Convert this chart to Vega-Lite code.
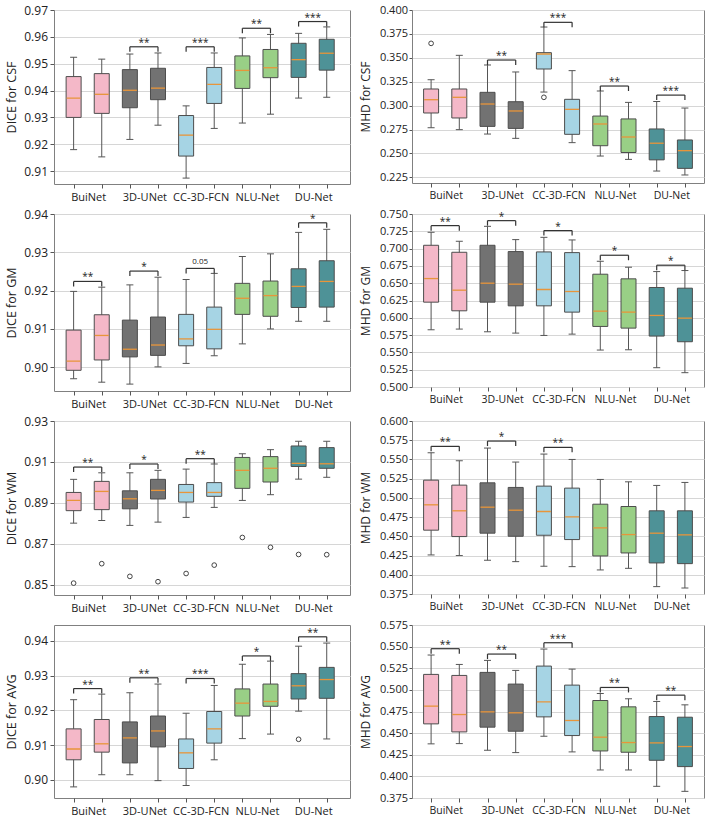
{
"$schema":"https://vega.github.io/schema/vega-lite/v6.json",
"background":"white",
"padding":{"left":5,"top":3,"right":2,"bottom":2},
"columns":2,
"bounds":"flush",
"align":"each",
"spacing":{"row":30,"column":62},
"data":{"values":[
{"p":"DC","k":"b","m":"BuiNet","x":1,"lo":0.918,"q1":0.930,"md":0.9372,"q3":0.9452,"hi":0.9524},
{"p":"DC","k":"b","m":"BuiNet","x":2,"lo":0.9153,"q1":0.9315,"md":0.9386,"q3":0.9463,"hi":0.9517},
{"p":"DC","k":"b","m":"3D-UNet","x":3,"lo":0.9218,"q1":0.9336,"md":0.9401,"q3":0.9478,"hi":0.9536},
{"p":"DC","k":"b","m":"3D-UNet","x":4,"lo":0.9271,"q1":0.9366,"md":0.9409,"q3":0.9483,"hi":0.954},
{"p":"DC","k":"b","m":"CC-3D-FCN","x":5,"lo":0.9074,"q1":0.9156,"md":0.9234,"q3":0.9307,"hi":0.9343},
{"p":"DC","k":"b","m":"CC-3D-FCN","x":6,"lo":0.9259,"q1":0.9352,"md":0.9423,"q3":0.9486,"hi":0.954},
{"p":"DC","k":"b","m":"NLU-Net","x":7,"lo":0.9279,"q1":0.9408,"md":0.9475,"q3":0.9529,"hi":0.9596},
{"p":"DC","k":"b","m":"NLU-Net","x":8,"lo":0.9312,"q1":0.9448,"md":0.9485,"q3":0.9553,"hi":0.9609},
{"p":"DC","k":"b","m":"DU-Net","x":9,"lo":0.9372,"q1":0.9449,"md":0.9515,"q3":0.9576,"hi":0.9613},
{"p":"DC","k":"b","m":"DU-Net","x":10,"lo":0.9375,"q1":0.9476,"md":0.9539,"q3":0.9591,"hi":0.9637},
{"p":"DC","k":"s","x":3,"x2":4,"mid":3.5,"y":0.9563,"t":"**"},
{"p":"DC","k":"s","x":5,"x2":6,"mid":5.5,"y":0.9563,"t":"***"},
{"p":"DC","k":"s","x":7,"x2":8,"mid":7.5,"y":0.9632,"t":"**"},
{"p":"DC","k":"s","x":9,"x2":10,"mid":9.5,"y":0.9657,"t":"***"},

{"p":"MC","k":"b","m":"BuiNet","x":1,"lo":0.2769,"q1":0.2923,"md":0.3062,"q3":0.3174,"hi":0.3271},
{"p":"MC","k":"b","m":"BuiNet","x":2,"lo":0.2749,"q1":0.2871,"md":0.3087,"q3":0.3174,"hi":0.3526},
{"p":"MC","k":"b","m":"3D-UNet","x":3,"lo":0.2703,"q1":0.2783,"md":0.3017,"q3":0.3139,"hi":0.3425},
{"p":"MC","k":"b","m":"3D-UNet","x":4,"lo":0.2658,"q1":0.2762,"md":0.2944,"q3":0.3041,"hi":0.3352},
{"p":"MC","k":"b","m":"CC-3D-FCN","x":5,"lo":0.3142,"q1":0.3383,"md":0.354,"q3":0.3554,"hi":0.3822},
{"p":"MC","k":"b","m":"CC-3D-FCN","x":6,"lo":0.2613,"q1":0.27,"md":0.2961,"q3":0.3066,"hi":0.3366},
{"p":"MC","k":"b","m":"NLU-Net","x":7,"lo":0.2473,"q1":0.2581,"md":0.2808,"q3":0.2891,"hi":0.3153},
{"p":"MC","k":"b","m":"NLU-Net","x":8,"lo":0.2438,"q1":0.2510,"md":0.2672,"q3":0.2861,"hi":0.3034},
{"p":"MC","k":"b","m":"DU-Net","x":9,"lo":0.2316,"q1":0.2433,"md":0.2607,"q3":0.2756,"hi":0.3043},
{"p":"MC","k":"b","m":"DU-Net","x":10,"lo":0.2275,"q1":0.2344,"md":0.2529,"q3":0.2641,"hi":0.2975},
{"p":"MC","k":"o","m":"BuiNet","x":1,"v":0.3651},
{"p":"MC","k":"o","m":"CC-3D-FCN","x":5,"v":0.3087},
{"p":"MC","k":"s","x":3,"x2":4,"mid":3.5,"y":0.3477,"t":"**"},
{"p":"MC","k":"s","x":5,"x2":6,"mid":5.5,"y":0.3871,"t":"***"},
{"p":"MC","k":"s","x":7,"x2":8,"mid":7.5,"y":0.3205,"t":"**"},
{"p":"MC","k":"s","x":9,"x2":10,"mid":9.5,"y":0.311,"t":"***"},

{"p":"DG","k":"b","m":"BuiNet","x":1,"lo":0.897,"q1":0.8992,"md":0.9016,"q3":0.9097,"hi":0.9198},
{"p":"DG","k":"b","m":"BuiNet","x":2,"lo":0.8961,"q1":0.9019,"md":0.9083,"q3":0.9137,"hi":0.9209},
{"p":"DG","k":"b","m":"3D-UNet","x":3,"lo":0.8956,"q1":0.9027,"md":0.9047,"q3":0.9123,"hi":0.9215},
{"p":"DG","k":"b","m":"3D-UNet","x":4,"lo":0.9001,"q1":0.9031,"md":0.9058,"q3":0.9131,"hi":0.9235},
{"p":"DG","k":"b","m":"CC-3D-FCN","x":5,"lo":0.901,"q1":0.9056,"md":0.9074,"q3":0.9138,"hi":0.9229},
{"p":"DG","k":"b","m":"CC-3D-FCN","x":6,"lo":0.903,"q1":0.9048,"md":0.9099,"q3":0.9157,"hi":0.9245},
{"p":"DG","k":"b","m":"NLU-Net","x":7,"lo":0.9061,"q1":0.9138,"md":0.918,"q3":0.9219,"hi":0.9289},
{"p":"DG","k":"b","m":"NLU-Net","x":8,"lo":0.91,"q1":0.9133,"md":0.9187,"q3":0.9225,"hi":0.9296},
{"p":"DG","k":"b","m":"DU-Net","x":9,"lo":0.912,"q1":0.9156,"md":0.9211,"q3":0.9257,"hi":0.9352},
{"p":"DG","k":"b","m":"DU-Net","x":10,"lo":0.912,"q1":0.9157,"md":0.9224,"q3":0.9278,"hi":0.936},
{"p":"DG","k":"s","x":1,"x2":2,"mid":1.5,"y":0.9224,"t":"**"},
{"p":"DG","k":"s","x":3,"x2":4,"mid":3.5,"y":0.9251,"t":"*"},
{"p":"DG","k":"s","x":5,"x2":6,"mid":5.5,"y":0.9258,"t":"0.05"},
{"p":"DG","k":"s","x":9,"x2":10,"mid":9.5,"y":0.9377,"t":"*"},

{"p":"MG","k":"b","m":"BuiNet","x":1,"lo":0.5827,"q1":0.6226,"md":0.6567,"q3":0.7048,"hi":0.7236},
{"p":"MG","k":"b","m":"BuiNet","x":2,"lo":0.5837,"q1":0.6101,"md":0.6399,"q3":0.6947,"hi":0.7106},
{"p":"MG","k":"b","m":"3D-UNet","x":3,"lo":0.5798,"q1":0.6226,"md":0.65,"q3":0.7048,"hi":0.7322},
{"p":"MG","k":"b","m":"3D-UNet","x":4,"lo":0.5779,"q1":0.6173,"md":0.6486,"q3":0.6957,"hi":0.713},
{"p":"MG","k":"b","m":"CC-3D-FCN","x":5,"lo":0.5745,"q1":0.6173,"md":0.6409,"q3":0.6952,"hi":0.7163},
{"p":"MG","k":"b","m":"CC-3D-FCN","x":6,"lo":0.5764,"q1":0.6082,"md":0.638,"q3":0.6942,"hi":0.7125},
{"p":"MG","k":"b","m":"NLU-Net","x":7,"lo":0.5534,"q1":0.5875,"md":0.6096,"q3":0.663,"hi":0.6817},
{"p":"MG","k":"b","m":"NLU-Net","x":8,"lo":0.5538,"q1":0.5851,"md":0.6082,"q3":0.6563,"hi":0.6731},
{"p":"MG","k":"b","m":"DU-Net","x":9,"lo":0.5279,"q1":0.5736,"md":0.6034,"q3":0.6438,"hi":0.6668},
{"p":"MG","k":"b","m":"DU-Net","x":10,"lo":0.5207,"q1":0.5654,"md":0.5995,"q3":0.6428,"hi":0.6683},
{"p":"MG","k":"s","x":1,"x2":2,"mid":1.5,"y":0.7332,"t":"**"},
{"p":"MG","k":"s","x":3,"x2":4,"mid":3.5,"y":0.7404,"t":"*"},
{"p":"MG","k":"s","x":5,"x2":6,"mid":5.5,"y":0.726,"t":"*"},
{"p":"MG","k":"s","x":7,"x2":8,"mid":7.5,"y":0.6904,"t":"*"},
{"p":"MG","k":"s","x":9,"x2":10,"mid":9.5,"y":0.676,"t":"*"},

{"p":"DW","k":"b","m":"BuiNet","x":1,"lo":0.8801,"q1":0.8862,"md":0.8912,"q3":0.8951,"hi":0.9015},
{"p":"DW","k":"b","m":"BuiNet","x":2,"lo":0.8814,"q1":0.8867,"md":0.8956,"q3":0.9005,"hi":0.9047},
{"p":"DW","k":"b","m":"3D-UNet","x":3,"lo":0.879,"q1":0.8871,"md":0.892,"q3":0.8959,"hi":0.9047},
{"p":"DW","k":"b","m":"3D-UNet","x":4,"lo":0.8806,"q1":0.8919,"md":0.8961,"q3":0.9015,"hi":0.9059},
{"p":"DW","k":"b","m":"CC-3D-FCN","x":5,"lo":0.8829,"q1":0.8904,"md":0.8951,"q3":0.899,"hi":0.9065},
{"p":"DW","k":"b","m":"CC-3D-FCN","x":6,"lo":0.8878,"q1":0.8932,"md":0.8951,"q3":0.8999,"hi":0.909},
{"p":"DW","k":"b","m":"NLU-Net","x":7,"lo":0.8912,"q1":0.8971,"md":0.9059,"q3":0.9122,"hi":0.914},
{"p":"DW","k":"b","m":"NLU-Net","x":8,"lo":0.894,"q1":0.9002,"md":0.9069,"q3":0.9126,"hi":0.916},
{"p":"DW","k":"b","m":"DU-Net","x":9,"lo":0.9016,"q1":0.9078,"md":0.9093,"q3":0.9178,"hi":0.9201},
{"p":"DW","k":"b","m":"DU-Net","x":10,"lo":0.9025,"q1":0.9069,"md":0.9091,"q3":0.917,"hi":0.9201},
{"p":"DW","k":"o","m":"BuiNet","x":1,"v":0.8508},
{"p":"DW","k":"o","m":"BuiNet","x":2,"v":0.8603},
{"p":"DW","k":"o","m":"3D-UNet","x":3,"v":0.8541},
{"p":"DW","k":"o","m":"3D-UNet","x":4,"v":0.8515},
{"p":"DW","k":"o","m":"CC-3D-FCN","x":5,"v":0.8555},
{"p":"DW","k":"o","m":"CC-3D-FCN","x":6,"v":0.8596},
{"p":"DW","k":"o","m":"NLU-Net","x":7,"v":0.8731},
{"p":"DW","k":"o","m":"NLU-Net","x":8,"v":0.8683},
{"p":"DW","k":"o","m":"DU-Net","x":9,"v":0.8648},
{"p":"DW","k":"o","m":"DU-Net","x":10,"v":0.8647},
{"p":"DW","k":"s","x":1,"x2":2,"mid":1.5,"y":0.9075,"t":"**"},
{"p":"DW","k":"s","x":3,"x2":4,"mid":3.5,"y":0.909,"t":"*"},
{"p":"DW","k":"s","x":5,"x2":6,"mid":5.5,"y":0.9116,"t":"**"},

{"p":"MW","k":"b","m":"BuiNet","x":1,"lo":0.4258,"q1":0.458,"md":0.491,"q3":0.5231,"hi":0.5587},
{"p":"MW","k":"b","m":"BuiNet","x":2,"lo":0.425,"q1":0.4497,"md":0.4832,"q3":0.5166,"hi":0.5483},
{"p":"MW","k":"b","m":"3D-UNet","x":3,"lo":0.4189,"q1":0.4541,"md":0.4879,"q3":0.5196,"hi":0.5648},
{"p":"MW","k":"b","m":"3D-UNet","x":4,"lo":0.4171,"q1":0.4501,"md":0.484,"q3":0.5136,"hi":0.5466},
{"p":"MW","k":"b","m":"CC-3D-FCN","x":5,"lo":0.4111,"q1":0.4514,"md":0.4823,"q3":0.5153,"hi":0.557},
{"p":"MW","k":"b","m":"CC-3D-FCN","x":6,"lo":0.4106,"q1":0.4458,"md":0.4753,"q3":0.5127,"hi":0.55},
{"p":"MW","k":"b","m":"NLU-Net","x":7,"lo":0.4063,"q1":0.4245,"md":0.461,"q3":0.4918,"hi":0.524},
{"p":"MW","k":"b","m":"NLU-Net","x":8,"lo":0.4084,"q1":0.4284,"md":0.4523,"q3":0.4888,"hi":0.5209},
{"p":"MW","k":"b","m":"DU-Net","x":9,"lo":0.3846,"q1":0.4154,"md":0.4541,"q3":0.4832,"hi":0.5162},
{"p":"MW","k":"b","m":"DU-Net","x":10,"lo":0.3828,"q1":0.4145,"md":0.4519,"q3":0.4832,"hi":0.5201},
{"p":"MW","k":"s","x":1,"x2":2,"mid":1.5,"y":0.567,"t":"**"},
{"p":"MW","k":"s","x":3,"x2":4,"mid":3.5,"y":0.5739,"t":"*"},
{"p":"MW","k":"s","x":5,"x2":6,"mid":5.5,"y":0.5657,"t":"**"},

{"p":"DA","k":"b","m":"BuiNet","x":1,"lo":0.898,"q1":0.9058,"md":0.9089,"q3":0.9147,"hi":0.9231},
{"p":"DA","k":"b","m":"BuiNet","x":2,"lo":0.9015,"q1":0.908,"md":0.9104,"q3":0.9174,"hi":0.9247},
{"p":"DA","k":"b","m":"3D-UNet","x":3,"lo":0.9015,"q1":0.9049,"md":0.9121,"q3":0.9167,"hi":0.9251},
{"p":"DA","k":"b","m":"3D-UNet","x":4,"lo":0.8998,"q1":0.9095,"md":0.9141,"q3":0.9184,"hi":0.9276},
{"p":"DA","k":"b","m":"CC-3D-FCN","x":5,"lo":0.8984,"q1":0.9033,"md":0.9078,"q3":0.9118,"hi":0.9192},
{"p":"DA","k":"b","m":"CC-3D-FCN","x":6,"lo":0.9058,"q1":0.9106,"md":0.9147,"q3":0.9197,"hi":0.9272},
{"p":"DA","k":"b","m":"NLU-Net","x":7,"lo":0.9119,"q1":0.9184,"md":0.9221,"q3":0.9262,"hi":0.9333},
{"p":"DA","k":"b","m":"NLU-Net","x":8,"lo":0.9132,"q1":0.9212,"md":0.9226,"q3":0.9276,"hi":0.9342},
{"p":"DA","k":"b","m":"DU-Net","x":9,"lo":0.9198,"q1":0.9233,"md":0.9271,"q3":0.9306,"hi":0.9385},
{"p":"DA","k":"b","m":"DU-Net","x":10,"lo":0.9118,"q1":0.9235,"md":0.9289,"q3":0.9324,"hi":0.9394},
{"p":"DA","k":"o","m":"DU-Net","x":9,"v":0.9117},
{"p":"DA","k":"s","x":1,"x2":2,"mid":1.5,"y":0.9263,"t":"**"},
{"p":"DA","k":"s","x":3,"x2":4,"mid":3.5,"y":0.9294,"t":"**"},
{"p":"DA","k":"s","x":5,"x2":6,"mid":5.5,"y":0.9292,"t":"***"},
{"p":"DA","k":"s","x":7,"x2":8,"mid":7.5,"y":0.9357,"t":"*"},
{"p":"DA","k":"s","x":9,"x2":10,"mid":9.5,"y":0.9412,"t":"**"},

{"p":"MA","k":"b","m":"BuiNet","x":1,"lo":0.4376,"q1":0.4607,"md":0.4812,"q3":0.5179,"hi":0.5403},
{"p":"MA","k":"b","m":"BuiNet","x":2,"lo":0.4379,"q1":0.4514,"md":0.4715,"q3":0.5167,"hi":0.5294},
{"p":"MA","k":"b","m":"3D-UNet","x":3,"lo":0.4302,"q1":0.4569,"md":0.4746,"q3":0.5202,"hi":0.5341},
{"p":"MA","k":"b","m":"3D-UNet","x":4,"lo":0.4275,"q1":0.4522,"md":0.4735,"q3":0.5067,"hi":0.5225},
{"p":"MA","k":"b","m":"CC-3D-FCN","x":5,"lo":0.4464,"q1":0.4688,"md":0.4862,"q3":0.5275,"hi":0.5472},
{"p":"MA","k":"b","m":"CC-3D-FCN","x":6,"lo":0.4283,"q1":0.4472,"md":0.4646,"q3":0.5055,"hi":0.524},
{"p":"MA","k":"b","m":"NLU-Net","x":7,"lo":0.4074,"q1":0.4294,"md":0.4453,"q3":0.4877,"hi":0.4958},
{"p":"MA","k":"b","m":"NLU-Net","x":8,"lo":0.4074,"q1":0.4279,"md":0.4391,"q3":0.4804,"hi":0.4897},
{"p":"MA","k":"b","m":"DU-Net","x":9,"lo":0.3885,"q1":0.4186,"md":0.4387,"q3":0.4692,"hi":0.4866},
{"p":"MA","k":"b","m":"DU-Net","x":10,"lo":0.3827,"q1":0.4113,"md":0.4345,"q3":0.4684,"hi":0.4827},
{"p":"MA","k":"s","x":1,"x2":2,"mid":1.5,"y":0.5476,"t":"**"},
{"p":"MA","k":"s","x":3,"x2":4,"mid":3.5,"y":0.5414,"t":"**"},
{"p":"MA","k":"s","x":5,"x2":6,"mid":5.5,"y":0.5545,"t":"***"},
{"p":"MA","k":"s","x":7,"x2":8,"mid":7.5,"y":0.5028,"t":"**"},
{"p":"MA","k":"s","x":9,"x2":10,"mid":9.5,"y":0.4939,"t":"**"}
]},
"concat":[
{"width":296,"height":174,"transform":[{"filter":"datum.p==='DC'"}],"layer":[
 {"transform":[{"filter":"datum.k==='b'"}],"mark":{"type":"rule","color":"#555555","strokeWidth":1},"encoding":{
  "x":{"field":"x","type":"quantitative","title":null,"scale":{"domain":[0.48,10.65],"nice":false,"zero":false},"axis":{"values":[1,2,3,4,5,6,7,8,9,10],"tickCount":30,"labelExpr":"datum.value % 2 === 1 ? ['BuiNet','3D-UNet','CC-3D-FCN','NLU-Net','DU-Net'][(datum.value - 1) / 2] : ''","labelOffset":14.55,"labelFontSize":11,"labelOverlap":false,"labelFlush":false}},
  "y":{"field":"lo","type":"quantitative","title":"DICE for CSF","scale":{"domain":[0.9052,0.97],"nice":false,"zero":false},"axis":{"values":[0.91,0.92,0.93,0.94,0.95,0.96,0.97],"tickCount":30,"format":".2f","labelFontSize":12,"titleFontSize":12.5,"titlePadding":5,"tickSize":4,"labelPadding":2.5,"labelOverlap":false,"labelFlush":false}},
  "y2":{"field":"hi"}}},
 {"transform":[{"filter":"datum.k==='b'"}],"mark":{"type":"bar","size":15,"stroke":"#4d4d4d","strokeWidth":1},"encoding":{"x":{"field":"x","type":"quantitative","title":null},"y":{"field":"q1","type":"quantitative","title":"DICE for CSF"},"y2":{"field":"q3"},"color":{"field":"m","type":"nominal","legend":null,"scale":{"domain":["BuiNet","3D-UNet","CC-3D-FCN","NLU-Net","DU-Net"],"range":["#f4b8c8","#727272","#a6d4e4","#99cf86","#4e9297"]}}}},
 {"transform":[{"filter":"datum.k==='b'"}],"mark":{"type":"tick","orient":"horizontal","size":7,"thickness":1,"color":"#555555","opacity":1},"encoding":{"x":{"field":"x","type":"quantitative","title":null},"y":{"field":"lo","type":"quantitative","title":"DICE for CSF"}}},
 {"transform":[{"filter":"datum.k==='b'"}],"mark":{"type":"tick","orient":"horizontal","size":7,"thickness":1,"color":"#555555","opacity":1},"encoding":{"x":{"field":"x","type":"quantitative","title":null},"y":{"field":"hi","type":"quantitative","title":"DICE for CSF"}}},
 {"transform":[{"filter":"datum.k==='b'"}],"mark":{"type":"tick","orient":"horizontal","size":14,"thickness":1.3,"color":"#e8953a","opacity":1},"encoding":{"x":{"field":"x","type":"quantitative","title":null},"y":{"field":"md","type":"quantitative","title":"DICE for CSF"}}},
 {"transform":[{"filter":"datum.k==='o'"}],"mark":{"type":"point","shape":"circle","size":22,"filled":false,"fill":"white","stroke":"#444444","strokeWidth":1,"opacity":1},"encoding":{"x":{"field":"x","type":"quantitative","title":null},"y":{"field":"v","type":"quantitative","title":"DICE for CSF"}}},
 {"transform":[{"filter":"datum.k==='s'"}],"mark":{"type":"rule","color":"#333333","strokeWidth":1.2},"encoding":{"x":{"field":"x","type":"quantitative","title":null},"x2":{"field":"x2"},"y":{"field":"y","type":"quantitative","title":"DICE for CSF"}}},
 {"transform":[{"filter":"datum.k==='s'"}],"mark":{"type":"tick","orient":"vertical","size":5,"thickness":1.2,"yOffset":2.5,"color":"#333333","opacity":1},"encoding":{"x":{"field":"x","type":"quantitative","title":null},"y":{"field":"y","type":"quantitative","title":"DICE for CSF"}}},
 {"transform":[{"filter":"datum.k==='s'"}],"mark":{"type":"tick","orient":"vertical","size":5,"thickness":1.2,"yOffset":2.5,"color":"#333333","opacity":1},"encoding":{"x":{"field":"x2","type":"quantitative","title":null},"y":{"field":"y","type":"quantitative","title":"DICE for CSF"}}},
 {"transform":[{"filter":"datum.k==='s'"}],"mark":{"type":"text","fontSize":10,"baseline":"middle","dy":-4,"color":"#222222"},"encoding":{"x":{"field":"mid","type":"quantitative","title":null},"y":{"field":"y","type":"quantitative","title":"DICE for CSF"},"text":{"field":"t"}}}
]},
{"width":292,"height":173,"transform":[{"filter":"datum.p==='MC'"}],"layer":[
 {"transform":[{"filter":"datum.k==='b'"}],"mark":{"type":"rule","color":"#555555","strokeWidth":1},"encoding":{
  "x":{"field":"x","type":"quantitative","title":null,"scale":{"domain":[0.5,10.5],"nice":false,"zero":false},"axis":{"values":[1,2,3,4,5,6,7,8,9,10],"tickCount":30,"labelExpr":"datum.value % 2 === 1 ? ['BuiNet','3D-UNet','CC-3D-FCN','NLU-Net','DU-Net'][(datum.value - 1) / 2] : ''","labelOffset":14.6,"labelFontSize":10.5,"labelOverlap":false,"labelFlush":false}},
  "y":{"field":"lo","type":"quantitative","title":"MHD for CSF","scale":{"domain":[0.2191,0.40],"nice":false,"zero":false},"axis":{"values":[0.225,0.25,0.275,0.3,0.325,0.35,0.375,0.4],"tickCount":30,"format":".3f","labelFontSize":11,"titleFontSize":12,"titlePadding":7,"tickSize":3,"labelPadding":1.5,"labelOverlap":false,"labelFlush":false}},
  "y2":{"field":"hi"}}},
 {"transform":[{"filter":"datum.k==='b'"}],"mark":{"type":"bar","size":15,"stroke":"#4d4d4d","strokeWidth":1},"encoding":{"x":{"field":"x","type":"quantitative","title":null},"y":{"field":"q1","type":"quantitative","title":"MHD for CSF"},"y2":{"field":"q3"},"color":{"field":"m","type":"nominal","legend":null,"scale":{"domain":["BuiNet","3D-UNet","CC-3D-FCN","NLU-Net","DU-Net"],"range":["#f4b8c8","#727272","#a6d4e4","#99cf86","#4e9297"]}}}},
 {"transform":[{"filter":"datum.k==='b'"}],"mark":{"type":"tick","orient":"horizontal","size":7,"thickness":1,"color":"#555555","opacity":1},"encoding":{"x":{"field":"x","type":"quantitative","title":null},"y":{"field":"lo","type":"quantitative","title":"MHD for CSF"}}},
 {"transform":[{"filter":"datum.k==='b'"}],"mark":{"type":"tick","orient":"horizontal","size":7,"thickness":1,"color":"#555555","opacity":1},"encoding":{"x":{"field":"x","type":"quantitative","title":null},"y":{"field":"hi","type":"quantitative","title":"MHD for CSF"}}},
 {"transform":[{"filter":"datum.k==='b'"}],"mark":{"type":"tick","orient":"horizontal","size":14,"thickness":1.3,"color":"#e8953a","opacity":1},"encoding":{"x":{"field":"x","type":"quantitative","title":null},"y":{"field":"md","type":"quantitative","title":"MHD for CSF"}}},
 {"transform":[{"filter":"datum.k==='o'"}],"mark":{"type":"point","shape":"circle","size":22,"filled":false,"fill":"white","stroke":"#444444","strokeWidth":1,"opacity":1},"encoding":{"x":{"field":"x","type":"quantitative","title":null},"y":{"field":"v","type":"quantitative","title":"MHD for CSF"}}},
 {"transform":[{"filter":"datum.k==='s'"}],"mark":{"type":"rule","color":"#333333","strokeWidth":1.2},"encoding":{"x":{"field":"x","type":"quantitative","title":null},"x2":{"field":"x2"},"y":{"field":"y","type":"quantitative","title":"MHD for CSF"}}},
 {"transform":[{"filter":"datum.k==='s'"}],"mark":{"type":"tick","orient":"vertical","size":5,"thickness":1.2,"yOffset":2.5,"color":"#333333","opacity":1},"encoding":{"x":{"field":"x","type":"quantitative","title":null},"y":{"field":"y","type":"quantitative","title":"MHD for CSF"}}},
 {"transform":[{"filter":"datum.k==='s'"}],"mark":{"type":"tick","orient":"vertical","size":5,"thickness":1.2,"yOffset":2.5,"color":"#333333","opacity":1},"encoding":{"x":{"field":"x2","type":"quantitative","title":null},"y":{"field":"y","type":"quantitative","title":"MHD for CSF"}}},
 {"transform":[{"filter":"datum.k==='s'"}],"mark":{"type":"text","fontSize":10,"baseline":"middle","dy":-4,"color":"#222222"},"encoding":{"x":{"field":"mid","type":"quantitative","title":null},"y":{"field":"y","type":"quantitative","title":"MHD for CSF"},"text":{"field":"t"}}}
]},
{"width":296,"height":177,"transform":[{"filter":"datum.p==='DG'"}],"layer":[
 {"transform":[{"filter":"datum.k==='b'"}],"mark":{"type":"rule","color":"#555555","strokeWidth":1},"encoding":{
  "x":{"field":"x","type":"quantitative","title":null,"scale":{"domain":[0.48,10.65],"nice":false,"zero":false},"axis":{"values":[1,2,3,4,5,6,7,8,9,10],"tickCount":30,"labelExpr":"datum.value % 2 === 1 ? ['BuiNet','3D-UNet','CC-3D-FCN','NLU-Net','DU-Net'][(datum.value - 1) / 2] : ''","labelOffset":14.55,"labelFontSize":11,"labelOverlap":false,"labelFlush":false}},
  "y":{"field":"lo","type":"quantitative","title":"DICE for GM","scale":{"domain":[0.8938,0.94],"nice":false,"zero":false},"axis":{"values":[0.90,0.91,0.92,0.93,0.94],"tickCount":30,"format":".2f","labelFontSize":12,"titleFontSize":12.5,"titlePadding":5,"tickSize":4,"labelPadding":2.5,"labelOverlap":false,"labelFlush":false}},
  "y2":{"field":"hi"}}},
 {"transform":[{"filter":"datum.k==='b'"}],"mark":{"type":"bar","size":15,"stroke":"#4d4d4d","strokeWidth":1},"encoding":{"x":{"field":"x","type":"quantitative","title":null},"y":{"field":"q1","type":"quantitative","title":"DICE for GM"},"y2":{"field":"q3"},"color":{"field":"m","type":"nominal","legend":null,"scale":{"domain":["BuiNet","3D-UNet","CC-3D-FCN","NLU-Net","DU-Net"],"range":["#f4b8c8","#727272","#a6d4e4","#99cf86","#4e9297"]}}}},
 {"transform":[{"filter":"datum.k==='b'"}],"mark":{"type":"tick","orient":"horizontal","size":7,"thickness":1,"color":"#555555","opacity":1},"encoding":{"x":{"field":"x","type":"quantitative","title":null},"y":{"field":"lo","type":"quantitative","title":"DICE for GM"}}},
 {"transform":[{"filter":"datum.k==='b'"}],"mark":{"type":"tick","orient":"horizontal","size":7,"thickness":1,"color":"#555555","opacity":1},"encoding":{"x":{"field":"x","type":"quantitative","title":null},"y":{"field":"hi","type":"quantitative","title":"DICE for GM"}}},
 {"transform":[{"filter":"datum.k==='b'"}],"mark":{"type":"tick","orient":"horizontal","size":14,"thickness":1.3,"color":"#e8953a","opacity":1},"encoding":{"x":{"field":"x","type":"quantitative","title":null},"y":{"field":"md","type":"quantitative","title":"DICE for GM"}}},
 {"transform":[{"filter":"datum.k==='o'"}],"mark":{"type":"point","shape":"circle","size":22,"filled":false,"fill":"white","stroke":"#444444","strokeWidth":1,"opacity":1},"encoding":{"x":{"field":"x","type":"quantitative","title":null},"y":{"field":"v","type":"quantitative","title":"DICE for GM"}}},
 {"transform":[{"filter":"datum.k==='s'"}],"mark":{"type":"rule","color":"#333333","strokeWidth":1.2},"encoding":{"x":{"field":"x","type":"quantitative","title":null},"x2":{"field":"x2"},"y":{"field":"y","type":"quantitative","title":"DICE for GM"}}},
 {"transform":[{"filter":"datum.k==='s'"}],"mark":{"type":"tick","orient":"vertical","size":5,"thickness":1.2,"yOffset":2.5,"color":"#333333","opacity":1},"encoding":{"x":{"field":"x","type":"quantitative","title":null},"y":{"field":"y","type":"quantitative","title":"DICE for GM"}}},
 {"transform":[{"filter":"datum.k==='s'"}],"mark":{"type":"tick","orient":"vertical","size":5,"thickness":1.2,"yOffset":2.5,"color":"#333333","opacity":1},"encoding":{"x":{"field":"x2","type":"quantitative","title":null},"y":{"field":"y","type":"quantitative","title":"DICE for GM"}}},
 {"transform":[{"filter":"datum.k==='s' && datum.t !== '0.05'"}],"mark":{"type":"text","fontSize":10,"baseline":"middle","dy":-4,"color":"#222222"},"encoding":{"x":{"field":"mid","type":"quantitative","title":null},"y":{"field":"y","type":"quantitative","title":"DICE for GM"},"text":{"field":"t"}}},
 {"transform":[{"filter":"datum.k==='s' && datum.t === '0.05'"}],"mark":{"type":"text","fontSize":8,"baseline":"middle","dy":-6,"color":"#222222"},"encoding":{"x":{"field":"mid","type":"quantitative","title":null},"y":{"field":"y","type":"quantitative","title":"DICE for GM"},"text":{"field":"t"}}}
]},
{"width":292,"height":173,"transform":[{"filter":"datum.p==='MG'"}],"layer":[
 {"transform":[{"filter":"datum.k==='b'"}],"mark":{"type":"rule","color":"#555555","strokeWidth":1},"encoding":{
  "x":{"field":"x","type":"quantitative","title":null,"scale":{"domain":[0.5,10.5],"nice":false,"zero":false},"axis":{"values":[1,2,3,4,5,6,7,8,9,10],"tickCount":30,"labelExpr":"datum.value % 2 === 1 ? ['BuiNet','3D-UNet','CC-3D-FCN','NLU-Net','DU-Net'][(datum.value - 1) / 2] : ''","labelOffset":14.6,"labelFontSize":10.5,"labelOverlap":false,"labelFlush":false}},
  "y":{"field":"lo","type":"quantitative","title":"MHD for GM","scale":{"domain":[0.5,0.75],"nice":false,"zero":false},"axis":{"values":[0.5,0.525,0.55,0.575,0.6,0.625,0.65,0.675,0.7,0.725,0.75],"tickCount":30,"format":".3f","labelFontSize":11,"titleFontSize":12,"titlePadding":7,"tickSize":3,"labelPadding":1.5,"labelOverlap":false,"labelFlush":false}},
  "y2":{"field":"hi"}}},
 {"transform":[{"filter":"datum.k==='b'"}],"mark":{"type":"bar","size":15,"stroke":"#4d4d4d","strokeWidth":1},"encoding":{"x":{"field":"x","type":"quantitative","title":null},"y":{"field":"q1","type":"quantitative","title":"MHD for GM"},"y2":{"field":"q3"},"color":{"field":"m","type":"nominal","legend":null,"scale":{"domain":["BuiNet","3D-UNet","CC-3D-FCN","NLU-Net","DU-Net"],"range":["#f4b8c8","#727272","#a6d4e4","#99cf86","#4e9297"]}}}},
 {"transform":[{"filter":"datum.k==='b'"}],"mark":{"type":"tick","orient":"horizontal","size":7,"thickness":1,"color":"#555555","opacity":1},"encoding":{"x":{"field":"x","type":"quantitative","title":null},"y":{"field":"lo","type":"quantitative","title":"MHD for GM"}}},
 {"transform":[{"filter":"datum.k==='b'"}],"mark":{"type":"tick","orient":"horizontal","size":7,"thickness":1,"color":"#555555","opacity":1},"encoding":{"x":{"field":"x","type":"quantitative","title":null},"y":{"field":"hi","type":"quantitative","title":"MHD for GM"}}},
 {"transform":[{"filter":"datum.k==='b'"}],"mark":{"type":"tick","orient":"horizontal","size":14,"thickness":1.3,"color":"#e8953a","opacity":1},"encoding":{"x":{"field":"x","type":"quantitative","title":null},"y":{"field":"md","type":"quantitative","title":"MHD for GM"}}},
 {"transform":[{"filter":"datum.k==='o'"}],"mark":{"type":"point","shape":"circle","size":22,"filled":false,"fill":"white","stroke":"#444444","strokeWidth":1,"opacity":1},"encoding":{"x":{"field":"x","type":"quantitative","title":null},"y":{"field":"v","type":"quantitative","title":"MHD for GM"}}},
 {"transform":[{"filter":"datum.k==='s'"}],"mark":{"type":"rule","color":"#333333","strokeWidth":1.2},"encoding":{"x":{"field":"x","type":"quantitative","title":null},"x2":{"field":"x2"},"y":{"field":"y","type":"quantitative","title":"MHD for GM"}}},
 {"transform":[{"filter":"datum.k==='s'"}],"mark":{"type":"tick","orient":"vertical","size":5,"thickness":1.2,"yOffset":2.5,"color":"#333333","opacity":1},"encoding":{"x":{"field":"x","type":"quantitative","title":null},"y":{"field":"y","type":"quantitative","title":"MHD for GM"}}},
 {"transform":[{"filter":"datum.k==='s'"}],"mark":{"type":"tick","orient":"vertical","size":5,"thickness":1.2,"yOffset":2.5,"color":"#333333","opacity":1},"encoding":{"x":{"field":"x2","type":"quantitative","title":null},"y":{"field":"y","type":"quantitative","title":"MHD for GM"}}},
 {"transform":[{"filter":"datum.k==='s'"}],"mark":{"type":"text","fontSize":10,"baseline":"middle","dy":-4,"color":"#222222"},"encoding":{"x":{"field":"mid","type":"quantitative","title":null},"y":{"field":"y","type":"quantitative","title":"MHD for GM"},"text":{"field":"t"}}}
]},
{"width":296,"height":174,"transform":[{"filter":"datum.p==='DW'"}],"layer":[
 {"transform":[{"filter":"datum.k==='b'"}],"mark":{"type":"rule","color":"#555555","strokeWidth":1},"encoding":{
  "x":{"field":"x","type":"quantitative","title":null,"scale":{"domain":[0.48,10.65],"nice":false,"zero":false},"axis":{"values":[1,2,3,4,5,6,7,8,9,10],"tickCount":30,"labelExpr":"datum.value % 2 === 1 ? ['BuiNet','3D-UNet','CC-3D-FCN','NLU-Net','DU-Net'][(datum.value - 1) / 2] : ''","labelOffset":14.55,"labelFontSize":11,"labelOverlap":false,"labelFlush":false}},
  "y":{"field":"lo","type":"quantitative","title":"DICE for WM","scale":{"domain":[0.845,0.93],"nice":false,"zero":false},"axis":{"values":[0.85,0.87,0.89,0.91,0.93],"tickCount":30,"format":".2f","labelFontSize":12,"titleFontSize":12.5,"titlePadding":5,"tickSize":4,"labelPadding":2.5,"labelOverlap":false,"labelFlush":false}},
  "y2":{"field":"hi"}}},
 {"transform":[{"filter":"datum.k==='b'"}],"mark":{"type":"bar","size":15,"stroke":"#4d4d4d","strokeWidth":1},"encoding":{"x":{"field":"x","type":"quantitative","title":null},"y":{"field":"q1","type":"quantitative","title":"DICE for WM"},"y2":{"field":"q3"},"color":{"field":"m","type":"nominal","legend":null,"scale":{"domain":["BuiNet","3D-UNet","CC-3D-FCN","NLU-Net","DU-Net"],"range":["#f4b8c8","#727272","#a6d4e4","#99cf86","#4e9297"]}}}},
 {"transform":[{"filter":"datum.k==='b'"}],"mark":{"type":"tick","orient":"horizontal","size":7,"thickness":1,"color":"#555555","opacity":1},"encoding":{"x":{"field":"x","type":"quantitative","title":null},"y":{"field":"lo","type":"quantitative","title":"DICE for WM"}}},
 {"transform":[{"filter":"datum.k==='b'"}],"mark":{"type":"tick","orient":"horizontal","size":7,"thickness":1,"color":"#555555","opacity":1},"encoding":{"x":{"field":"x","type":"quantitative","title":null},"y":{"field":"hi","type":"quantitative","title":"DICE for WM"}}},
 {"transform":[{"filter":"datum.k==='b'"}],"mark":{"type":"tick","orient":"horizontal","size":14,"thickness":1.3,"color":"#e8953a","opacity":1},"encoding":{"x":{"field":"x","type":"quantitative","title":null},"y":{"field":"md","type":"quantitative","title":"DICE for WM"}}},
 {"transform":[{"filter":"datum.k==='o'"}],"mark":{"type":"point","shape":"circle","size":22,"filled":false,"fill":"white","stroke":"#444444","strokeWidth":1,"opacity":1},"encoding":{"x":{"field":"x","type":"quantitative","title":null},"y":{"field":"v","type":"quantitative","title":"DICE for WM"}}},
 {"transform":[{"filter":"datum.k==='s'"}],"mark":{"type":"rule","color":"#333333","strokeWidth":1.2},"encoding":{"x":{"field":"x","type":"quantitative","title":null},"x2":{"field":"x2"},"y":{"field":"y","type":"quantitative","title":"DICE for WM"}}},
 {"transform":[{"filter":"datum.k==='s'"}],"mark":{"type":"tick","orient":"vertical","size":5,"thickness":1.2,"yOffset":2.5,"color":"#333333","opacity":1},"encoding":{"x":{"field":"x","type":"quantitative","title":null},"y":{"field":"y","type":"quantitative","title":"DICE for WM"}}},
 {"transform":[{"filter":"datum.k==='s'"}],"mark":{"type":"tick","orient":"vertical","size":5,"thickness":1.2,"yOffset":2.5,"color":"#333333","opacity":1},"encoding":{"x":{"field":"x2","type":"quantitative","title":null},"y":{"field":"y","type":"quantitative","title":"DICE for WM"}}},
 {"transform":[{"filter":"datum.k==='s'"}],"mark":{"type":"text","fontSize":10,"baseline":"middle","dy":-4,"color":"#222222"},"encoding":{"x":{"field":"mid","type":"quantitative","title":null},"y":{"field":"y","type":"quantitative","title":"DICE for WM"},"text":{"field":"t"}}}
]},
{"width":292,"height":173,"transform":[{"filter":"datum.p==='MW'"}],"layer":[
 {"transform":[{"filter":"datum.k==='b'"}],"mark":{"type":"rule","color":"#555555","strokeWidth":1},"encoding":{
  "x":{"field":"x","type":"quantitative","title":null,"scale":{"domain":[0.5,10.5],"nice":false,"zero":false},"axis":{"values":[1,2,3,4,5,6,7,8,9,10],"tickCount":30,"labelExpr":"datum.value % 2 === 1 ? ['BuiNet','3D-UNet','CC-3D-FCN','NLU-Net','DU-Net'][(datum.value - 1) / 2] : ''","labelOffset":14.6,"labelFontSize":10.5,"labelOverlap":false,"labelFlush":false}},
  "y":{"field":"lo","type":"quantitative","title":"MHD for WM","scale":{"domain":[0.375,0.6],"nice":false,"zero":false},"axis":{"values":[0.375,0.4,0.425,0.45,0.475,0.5,0.525,0.55,0.575,0.6],"tickCount":30,"format":".3f","labelFontSize":11,"titleFontSize":12,"titlePadding":7,"tickSize":3,"labelPadding":1.5,"labelOverlap":false,"labelFlush":false}},
  "y2":{"field":"hi"}}},
 {"transform":[{"filter":"datum.k==='b'"}],"mark":{"type":"bar","size":15,"stroke":"#4d4d4d","strokeWidth":1},"encoding":{"x":{"field":"x","type":"quantitative","title":null},"y":{"field":"q1","type":"quantitative","title":"MHD for WM"},"y2":{"field":"q3"},"color":{"field":"m","type":"nominal","legend":null,"scale":{"domain":["BuiNet","3D-UNet","CC-3D-FCN","NLU-Net","DU-Net"],"range":["#f4b8c8","#727272","#a6d4e4","#99cf86","#4e9297"]}}}},
 {"transform":[{"filter":"datum.k==='b'"}],"mark":{"type":"tick","orient":"horizontal","size":7,"thickness":1,"color":"#555555","opacity":1},"encoding":{"x":{"field":"x","type":"quantitative","title":null},"y":{"field":"lo","type":"quantitative","title":"MHD for WM"}}},
 {"transform":[{"filter":"datum.k==='b'"}],"mark":{"type":"tick","orient":"horizontal","size":7,"thickness":1,"color":"#555555","opacity":1},"encoding":{"x":{"field":"x","type":"quantitative","title":null},"y":{"field":"hi","type":"quantitative","title":"MHD for WM"}}},
 {"transform":[{"filter":"datum.k==='b'"}],"mark":{"type":"tick","orient":"horizontal","size":14,"thickness":1.3,"color":"#e8953a","opacity":1},"encoding":{"x":{"field":"x","type":"quantitative","title":null},"y":{"field":"md","type":"quantitative","title":"MHD for WM"}}},
 {"transform":[{"filter":"datum.k==='o'"}],"mark":{"type":"point","shape":"circle","size":22,"filled":false,"fill":"white","stroke":"#444444","strokeWidth":1,"opacity":1},"encoding":{"x":{"field":"x","type":"quantitative","title":null},"y":{"field":"v","type":"quantitative","title":"MHD for WM"}}},
 {"transform":[{"filter":"datum.k==='s'"}],"mark":{"type":"rule","color":"#333333","strokeWidth":1.2},"encoding":{"x":{"field":"x","type":"quantitative","title":null},"x2":{"field":"x2"},"y":{"field":"y","type":"quantitative","title":"MHD for WM"}}},
 {"transform":[{"filter":"datum.k==='s'"}],"mark":{"type":"tick","orient":"vertical","size":5,"thickness":1.2,"yOffset":2.5,"color":"#333333","opacity":1},"encoding":{"x":{"field":"x","type":"quantitative","title":null},"y":{"field":"y","type":"quantitative","title":"MHD for WM"}}},
 {"transform":[{"filter":"datum.k==='s'"}],"mark":{"type":"tick","orient":"vertical","size":5,"thickness":1.2,"yOffset":2.5,"color":"#333333","opacity":1},"encoding":{"x":{"field":"x2","type":"quantitative","title":null},"y":{"field":"y","type":"quantitative","title":"MHD for WM"}}},
 {"transform":[{"filter":"datum.k==='s'"}],"mark":{"type":"text","fontSize":10,"baseline":"middle","dy":-4,"color":"#222222"},"encoding":{"x":{"field":"mid","type":"quantitative","title":null},"y":{"field":"y","type":"quantitative","title":"MHD for WM"},"text":{"field":"t"}}}
]},
{"width":296,"height":173,"transform":[{"filter":"datum.p==='DA'"}],"layer":[
 {"transform":[{"filter":"datum.k==='b'"}],"mark":{"type":"rule","color":"#555555","strokeWidth":1},"encoding":{
  "x":{"field":"x","type":"quantitative","title":null,"scale":{"domain":[0.48,10.65],"nice":false,"zero":false},"axis":{"values":[1,2,3,4,5,6,7,8,9,10],"tickCount":30,"labelExpr":"datum.value % 2 === 1 ? ['BuiNet','3D-UNet','CC-3D-FCN','NLU-Net','DU-Net'][(datum.value - 1) / 2] : ''","labelOffset":14.55,"labelFontSize":11,"labelOverlap":false,"labelFlush":false}},
  "y":{"field":"lo","type":"quantitative","title":"DICE for AVG","scale":{"domain":[0.8948,0.9446],"nice":false,"zero":false},"axis":{"values":[0.90,0.91,0.92,0.93,0.94],"tickCount":30,"format":".2f","labelFontSize":12,"titleFontSize":12.5,"titlePadding":5,"tickSize":4,"labelPadding":2.5,"labelOverlap":false,"labelFlush":false}},
  "y2":{"field":"hi"}}},
 {"transform":[{"filter":"datum.k==='b'"}],"mark":{"type":"bar","size":15,"stroke":"#4d4d4d","strokeWidth":1},"encoding":{"x":{"field":"x","type":"quantitative","title":null},"y":{"field":"q1","type":"quantitative","title":"DICE for AVG"},"y2":{"field":"q3"},"color":{"field":"m","type":"nominal","legend":null,"scale":{"domain":["BuiNet","3D-UNet","CC-3D-FCN","NLU-Net","DU-Net"],"range":["#f4b8c8","#727272","#a6d4e4","#99cf86","#4e9297"]}}}},
 {"transform":[{"filter":"datum.k==='b'"}],"mark":{"type":"tick","orient":"horizontal","size":7,"thickness":1,"color":"#555555","opacity":1},"encoding":{"x":{"field":"x","type":"quantitative","title":null},"y":{"field":"lo","type":"quantitative","title":"DICE for AVG"}}},
 {"transform":[{"filter":"datum.k==='b'"}],"mark":{"type":"tick","orient":"horizontal","size":7,"thickness":1,"color":"#555555","opacity":1},"encoding":{"x":{"field":"x","type":"quantitative","title":null},"y":{"field":"hi","type":"quantitative","title":"DICE for AVG"}}},
 {"transform":[{"filter":"datum.k==='b'"}],"mark":{"type":"tick","orient":"horizontal","size":14,"thickness":1.3,"color":"#e8953a","opacity":1},"encoding":{"x":{"field":"x","type":"quantitative","title":null},"y":{"field":"md","type":"quantitative","title":"DICE for AVG"}}},
 {"transform":[{"filter":"datum.k==='o'"}],"mark":{"type":"point","shape":"circle","size":22,"filled":false,"fill":"white","stroke":"#444444","strokeWidth":1,"opacity":1},"encoding":{"x":{"field":"x","type":"quantitative","title":null},"y":{"field":"v","type":"quantitative","title":"DICE for AVG"}}},
 {"transform":[{"filter":"datum.k==='s'"}],"mark":{"type":"rule","color":"#333333","strokeWidth":1.2},"encoding":{"x":{"field":"x","type":"quantitative","title":null},"x2":{"field":"x2"},"y":{"field":"y","type":"quantitative","title":"DICE for AVG"}}},
 {"transform":[{"filter":"datum.k==='s'"}],"mark":{"type":"tick","orient":"vertical","size":5,"thickness":1.2,"yOffset":2.5,"color":"#333333","opacity":1},"encoding":{"x":{"field":"x","type":"quantitative","title":null},"y":{"field":"y","type":"quantitative","title":"DICE for AVG"}}},
 {"transform":[{"filter":"datum.k==='s'"}],"mark":{"type":"tick","orient":"vertical","size":5,"thickness":1.2,"yOffset":2.5,"color":"#333333","opacity":1},"encoding":{"x":{"field":"x2","type":"quantitative","title":null},"y":{"field":"y","type":"quantitative","title":"DICE for AVG"}}},
 {"transform":[{"filter":"datum.k==='s'"}],"mark":{"type":"text","fontSize":10,"baseline":"middle","dy":-4,"color":"#222222"},"encoding":{"x":{"field":"mid","type":"quantitative","title":null},"y":{"field":"y","type":"quantitative","title":"DICE for AVG"},"text":{"field":"t"}}}
]},
{"width":292,"height":173,"transform":[{"filter":"datum.p==='MA'"}],"layer":[
 {"transform":[{"filter":"datum.k==='b'"}],"mark":{"type":"rule","color":"#555555","strokeWidth":1},"encoding":{
  "x":{"field":"x","type":"quantitative","title":null,"scale":{"domain":[0.5,10.5],"nice":false,"zero":false},"axis":{"values":[1,2,3,4,5,6,7,8,9,10],"tickCount":30,"labelExpr":"datum.value % 2 === 1 ? ['BuiNet','3D-UNet','CC-3D-FCN','NLU-Net','DU-Net'][(datum.value - 1) / 2] : ''","labelOffset":14.6,"labelFontSize":10.5,"labelOverlap":false,"labelFlush":false}},
  "y":{"field":"lo","type":"quantitative","title":"MHD for AVG","scale":{"domain":[0.375,0.575],"nice":false,"zero":false},"axis":{"values":[0.375,0.4,0.425,0.45,0.475,0.5,0.525,0.55,0.575],"tickCount":30,"format":".3f","labelFontSize":11,"titleFontSize":12,"titlePadding":7,"tickSize":3,"labelPadding":1.5,"labelOverlap":false,"labelFlush":false}},
  "y2":{"field":"hi"}}},
 {"transform":[{"filter":"datum.k==='b'"}],"mark":{"type":"bar","size":15,"stroke":"#4d4d4d","strokeWidth":1},"encoding":{"x":{"field":"x","type":"quantitative","title":null},"y":{"field":"q1","type":"quantitative","title":"MHD for AVG"},"y2":{"field":"q3"},"color":{"field":"m","type":"nominal","legend":null,"scale":{"domain":["BuiNet","3D-UNet","CC-3D-FCN","NLU-Net","DU-Net"],"range":["#f4b8c8","#727272","#a6d4e4","#99cf86","#4e9297"]}}}},
 {"transform":[{"filter":"datum.k==='b'"}],"mark":{"type":"tick","orient":"horizontal","size":7,"thickness":1,"color":"#555555","opacity":1},"encoding":{"x":{"field":"x","type":"quantitative","title":null},"y":{"field":"lo","type":"quantitative","title":"MHD for AVG"}}},
 {"transform":[{"filter":"datum.k==='b'"}],"mark":{"type":"tick","orient":"horizontal","size":7,"thickness":1,"color":"#555555","opacity":1},"encoding":{"x":{"field":"x","type":"quantitative","title":null},"y":{"field":"hi","type":"quantitative","title":"MHD for AVG"}}},
 {"transform":[{"filter":"datum.k==='b'"}],"mark":{"type":"tick","orient":"horizontal","size":14,"thickness":1.3,"color":"#e8953a","opacity":1},"encoding":{"x":{"field":"x","type":"quantitative","title":null},"y":{"field":"md","type":"quantitative","title":"MHD for AVG"}}},
 {"transform":[{"filter":"datum.k==='o'"}],"mark":{"type":"point","shape":"circle","size":22,"filled":false,"fill":"white","stroke":"#444444","strokeWidth":1,"opacity":1},"encoding":{"x":{"field":"x","type":"quantitative","title":null},"y":{"field":"v","type":"quantitative","title":"MHD for AVG"}}},
 {"transform":[{"filter":"datum.k==='s'"}],"mark":{"type":"rule","color":"#333333","strokeWidth":1.2},"encoding":{"x":{"field":"x","type":"quantitative","title":null},"x2":{"field":"x2"},"y":{"field":"y","type":"quantitative","title":"MHD for AVG"}}},
 {"transform":[{"filter":"datum.k==='s'"}],"mark":{"type":"tick","orient":"vertical","size":5,"thickness":1.2,"yOffset":2.5,"color":"#333333","opacity":1},"encoding":{"x":{"field":"x","type":"quantitative","title":null},"y":{"field":"y","type":"quantitative","title":"MHD for AVG"}}},
 {"transform":[{"filter":"datum.k==='s'"}],"mark":{"type":"tick","orient":"vertical","size":5,"thickness":1.2,"yOffset":2.5,"color":"#333333","opacity":1},"encoding":{"x":{"field":"x2","type":"quantitative","title":null},"y":{"field":"y","type":"quantitative","title":"MHD for AVG"}}},
 {"transform":[{"filter":"datum.k==='s'"}],"mark":{"type":"text","fontSize":10,"baseline":"middle","dy":-4,"color":"#222222"},"encoding":{"x":{"field":"mid","type":"quantitative","title":null},"y":{"field":"y","type":"quantitative","title":"MHD for AVG"},"text":{"field":"t"}}}
]}
],
"config":{
 "font":"Open Sans",
 "view":{"stroke":"#808080","strokeWidth":1},
 "axis":{"labelFont":"Open Sans","titleFont":"Open Sans","labelColor":"#222222","titleColor":"#222222","tickColor":"#555555","domain":false,"titleFontWeight":"normal","grid":false},
 "axisY":{"grid":true,"gridColor":"#d6d6d6","gridWidth":1.2},
 "axisX":{"tickSize":4,"labelPadding":3}
}
}
